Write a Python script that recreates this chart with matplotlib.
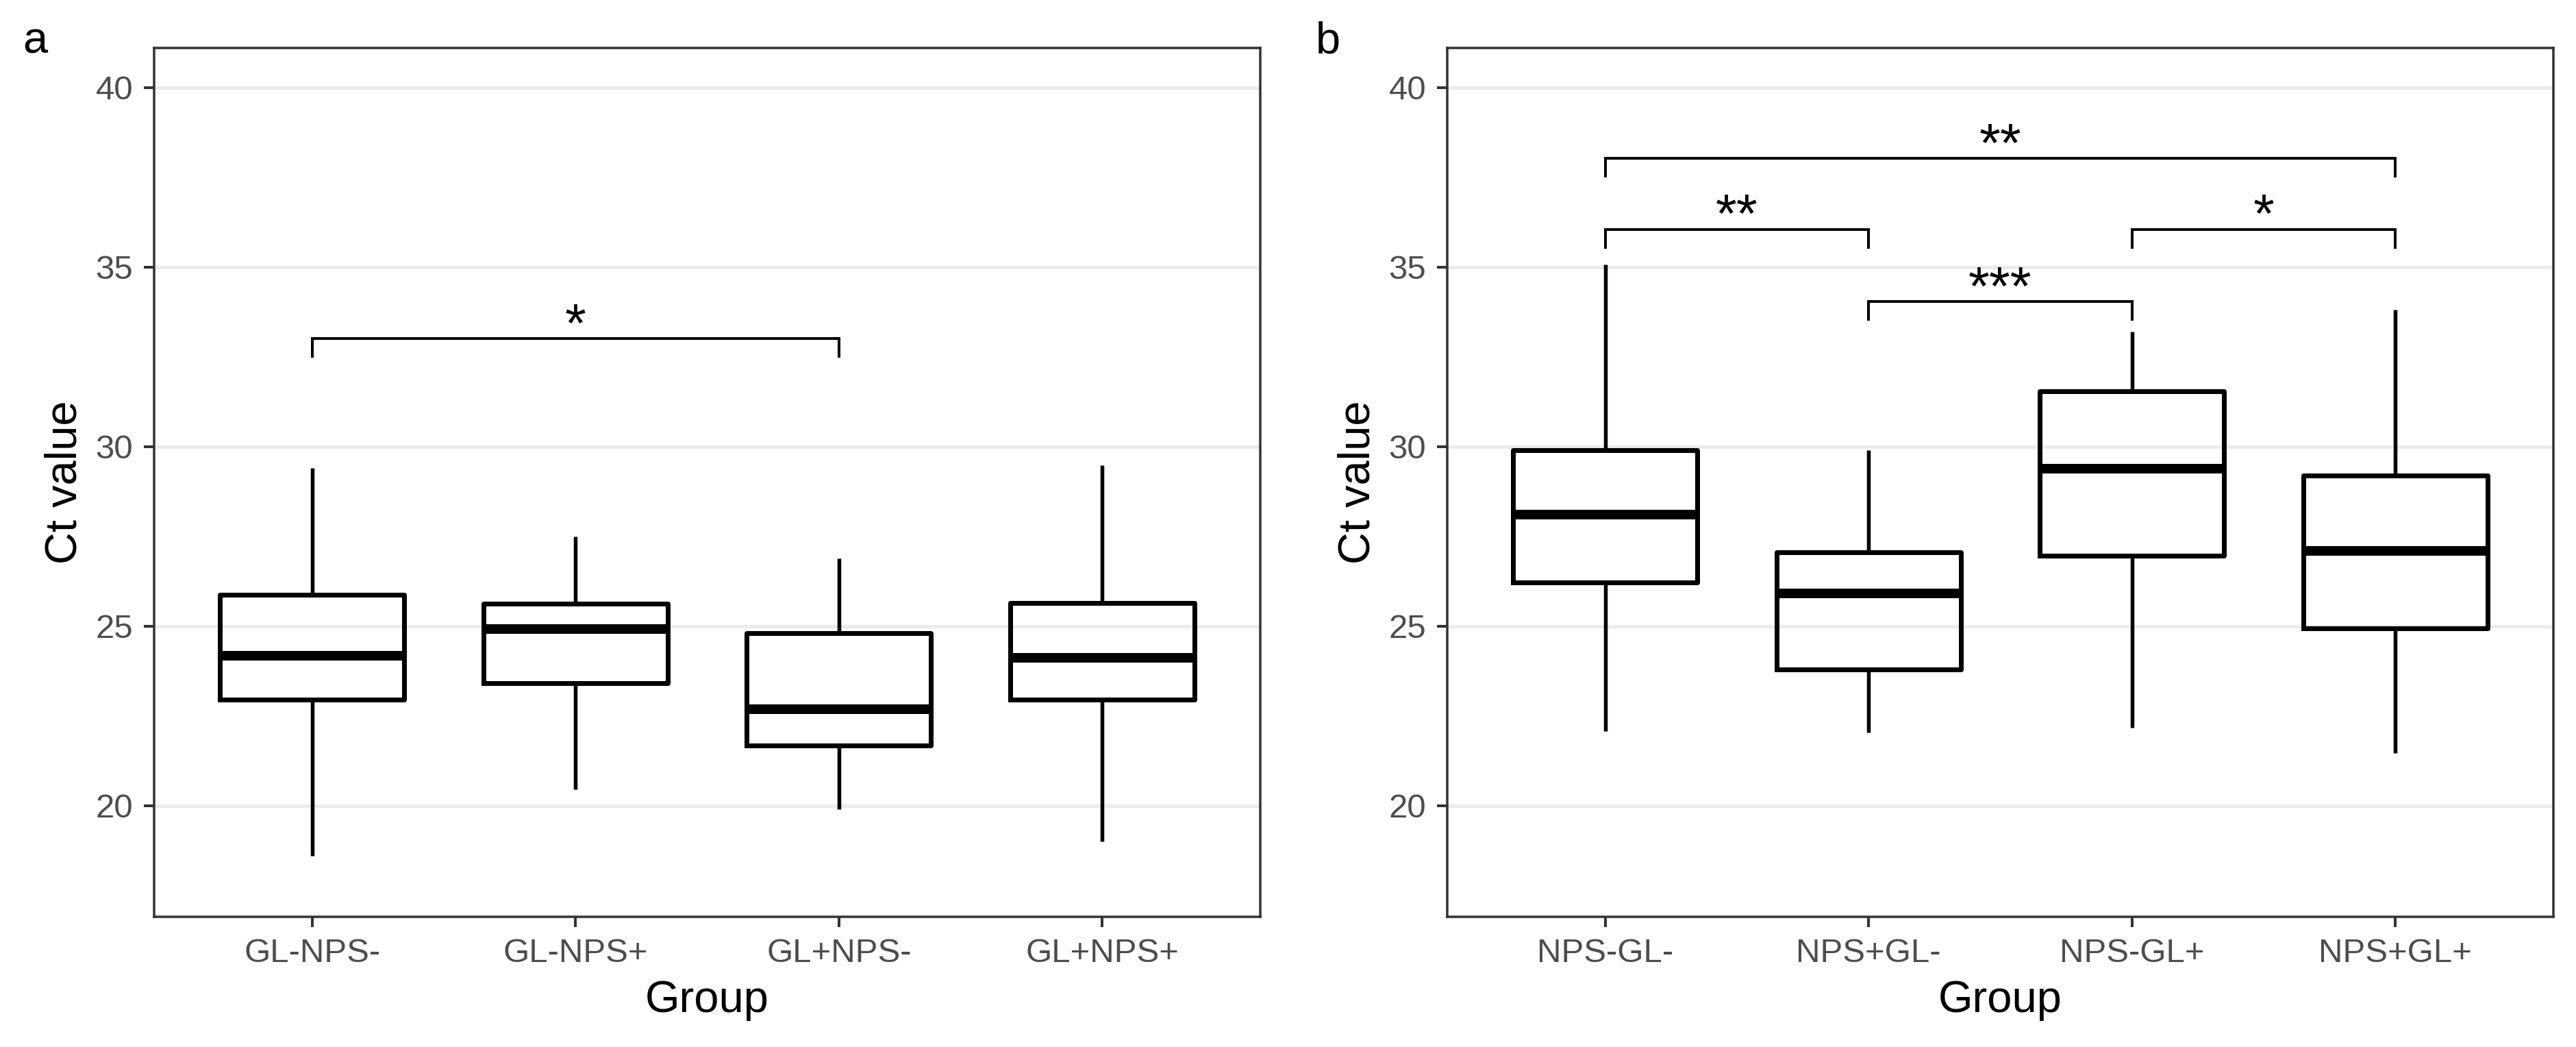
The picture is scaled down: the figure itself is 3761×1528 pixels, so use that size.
"""Ct value box plots for the two grouping schemes (panels a and b)."""

import matplotlib
matplotlib.use('Agg')
import matplotlib.pyplot as plt

plt.rcParams['font.family'] = ['Liberation Sans', 'DejaVu Sans']

# panel a
groups_a = ['GL-NPS-', 'GL-NPS+', 'GL+NPS-', 'GL+NPS+']
low_a = [18.6, 20.45, 19.9, 19.0]
q1_a = [22.95, 23.4, 21.68, 22.95]
med_a = [24.17, 24.92, 22.68, 24.12]
q3_a = [25.87, 25.62, 24.8, 25.65]
high_a = [29.4, 27.5, 26.88, 29.48]
sig_pairs_a = [(1, 3)]
sig_y_a = [33.0]
sig_text_a = ['*']

# panel b
groups_b = ['NPS-GL-', 'NPS+GL-', 'NPS-GL+', 'NPS+GL+']
low_b = [22.07, 22.04, 22.17, 21.47]
q1_b = [26.22, 23.79, 26.96, 24.93]
med_b = [28.1, 25.9, 29.38, 27.1]
q3_b = [29.9, 27.05, 31.53, 29.2]
high_b = [35.07, 29.9, 33.2, 33.8]
sig_pairs_b = [(1, 4), (1, 2), (3, 4), (2, 3)]
sig_y_b = [38.02, 36.04, 36.04, 34.03]
sig_text_b = ['**', '**', '*', '***']

panels = [
    ('a', groups_a, low_a, q1_a, med_a, q3_a, high_a, sig_pairs_a, sig_y_a, sig_text_a),
    ('b', groups_b, low_b, q1_b, med_b, q3_b, high_b, sig_pairs_b, sig_y_b, sig_text_b),
]

W, H = 3762, 1528
fig = plt.figure(figsize=(W / 300, H / 300), dpi=300)

px = 72 / 300  # one pixel in points
axes_left = [225, 2113]
for i, (tag, groups, low, q1, med, q3, high, pairs, sig_y, sig_text) in enumerate(panels):
    ax = fig.add_axes([axes_left[i] / W, 190 / H, 1615 / W, 1268 / H])
    stats = []
    for j in range(len(groups)):
        stats.append({'label': groups[j], 'whislo': low[j], 'q1': q1[j], 'med': med[j],
                      'q3': q3[j], 'whishi': high[j], 'fliers': []})
    ax.bxp(stats, positions=[1, 2, 3, 4], widths=0.7, showcaps=False, showfliers=False,
           boxprops=dict(color='black', linewidth=7 * px),
           whiskerprops=dict(color='black', linewidth=5.5 * px, solid_capstyle='butt'),
           medianprops=dict(color='black', linewidth=14 * px, solid_capstyle='butt'))

    # significance brackets
    for (g1, g2), y, s in zip(pairs, sig_y, sig_text):
        ax.plot([g1, g1, g2, g2], [y - 0.53, y, y, y - 0.53], color='black',
                linewidth=4 * px, solid_capstyle='butt', solid_joinstyle='miter')
        ax.text((g1 + g2) / 2, y - 0.08, s, ha='center', va='baseline', fontsize=19)

    ax.set_xlim(0.4, 4.6)
    ax.set_ylim(16.9, 41.1)
    ax.set_yticks([20, 25, 30, 35, 40])
    ax.set_xticks([1, 2, 3, 4])
    ax.set_xticklabels(groups)
    ax.set_axisbelow(True)
    ax.yaxis.grid(True, color='#EBEBEB', linewidth=5 * px)
    ax.xaxis.grid(False)
    for sp in ax.spines.values():
        sp.set_color('#333333')
        sp.set_linewidth(3.5 * px)
    ax.tick_params(length=15 * px, width=4 * px, color='#333333', labelcolor='#4D4D4D',
                   labelsize=11.8, pad=3.8)
    ax.set_xlabel('Group', fontsize=15.6, labelpad=4)
    ax.set_ylabel('Ct value', fontsize=15.6, labelpad=3.5)

    fig.text((33 + axes_left[i] - 225) / W, 1 - 77 / H, tag, fontsize=15.6,
             ha='left', va='baseline')

plt.savefig('out.png', dpi=300)
